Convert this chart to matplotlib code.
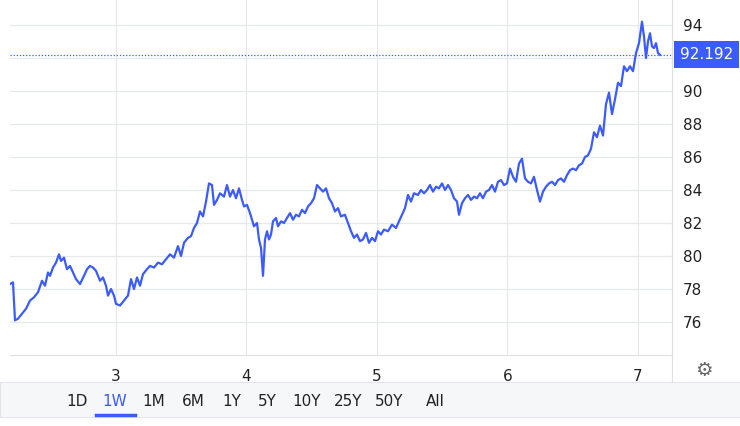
import matplotlib
matplotlib.use("Agg")
import matplotlib.pyplot as plt
import numpy as np

# time in pixel-like sample units (130.5 units per day, day 3 at 116)
t = [10,13,15,18,22,26,30,34,38,42,45,48,50,53,56,59,61,64,67,70,73,76,80,84,87,90,93,96,100,103,106,108,111,114,116,120,124,128,131,134,137,140,143,147,150,154,158,162,166,170,174,178,181,184,188,191,194,197,200,203,206,209,212,214,217,220,224,227,230,233,236,239,242,244,247,250,254,257,259,261,263,265,267,269,271,273,276,278,281,284,287,290,293,296,299,302,305,308,311,314,317,320,323,326,329,332,335,338,341,345,348,351,354,357,360,363,366,369,372,375,378,381,384,388,392,396,399,402,405,408,411,414,418,421,424,427,430,433,436,439,442,445,448,451,454,457,459,462,465,468,471,474,477,480,483,486,489,492,495,498,501,504,507,510,513,516,519,522,525,528,531,534,537,540,543,546,549,552,555,558,561,564,567,570,573,576,579,582,585,588,591,594,597,600,603,606,609,612,615,618,621,624,627,630,633,636,639,642,644,646,648,650,652,654,656,658,660]
values = [78.3,78.4,76.1,76.2,76.5,76.8,77.3,77.5,77.8,78.5,78.2,79.0,78.8,79.3,79.6,80.1,79.7,79.9,79.2,79.4,79.0,78.6,78.3,78.8,79.2,79.4,79.3,79.1,78.5,78.7,78.2,77.6,78.0,77.6,77.1,77.0,77.3,77.6,78.6,78.0,78.7,78.2,78.9,79.2,79.4,79.3,79.6,79.5,79.8,80.1,79.9,80.6,80.0,80.8,81.1,81.2,81.7,82.0,82.7,82.4,83.3,84.4,84.3,83.1,83.4,83.8,83.6,84.3,83.6,84.0,83.5,84.1,83.4,83.0,83.1,82.6,81.8,82.0,81.0,80.5,78.8,81.0,81.5,81.0,81.3,82.1,82.3,81.8,82.1,82.0,82.3,82.6,82.2,82.5,82.4,82.8,82.6,83.0,83.2,83.5,84.3,84.1,83.9,84.1,83.5,83.2,82.7,82.9,82.4,82.5,82.0,81.5,81.1,81.3,80.9,81.0,81.4,80.8,81.1,80.9,81.5,81.3,81.6,81.5,81.9,81.7,82.1,82.5,82.9,83.7,83.3,83.8,83.7,84.0,83.8,84.0,84.3,83.9,84.2,84.1,84.4,84.0,84.3,84.0,83.5,83.3,82.5,83.2,83.5,83.7,83.4,83.6,83.5,83.8,83.5,83.9,84.0,84.3,83.9,84.5,84.6,84.3,84.4,85.3,84.8,84.5,85.6,85.9,84.7,84.5,84.4,84.8,84.0,83.3,83.9,84.2,84.4,84.5,84.3,84.6,84.7,84.5,84.9,85.2,85.3,85.2,85.5,85.6,86.0,86.1,86.5,87.5,87.2,87.9,87.3,89.2,89.9,88.6,89.5,90.5,90.3,91.5,91.2,91.5,91.2,92.3,92.9,94.2,93.3,92.0,93.0,93.5,92.7,92.6,92.9,92.3,92.192]
last_value = 92.192
x_ticks = [3, 4, 5, 6, 7]
y_ticks = [76, 78, 80, 82, 84, 86, 88, 90, 92, 94]
buttons = ["1D", "1W", "1M", "6M", "1Y", "5Y", "10Y", "25Y", "50Y", "All"]

days = 3 + (np.array(t) - 116) / 130.5
blue = "#3b5bfd"

fig = plt.figure(figsize=(7.4, 4.26), dpi=100)
W, H = 740, 426
ax = fig.add_axes([10/W, (H-355)/H, 662/W, 355/H])
ax.plot(days, values, color=blue, lw=1.6)
ax.axhline(last_value, color=blue, lw=0.9, ls=(0, (1, 1.5)))
ax.set_xlim(3 + (10-116)/130.5, 3 + (672-116)/130.5)
ax.set_ylim(94 - (355-25)/16.5, 94 + 25/16.5)
ax.set_xticks(x_ticks)
ax.set_yticks(y_ticks)
ax.set_yticklabels([str(v) if v != 92 else "" for v in y_ticks])
ax.grid(True, color="#e6e8ec", lw=0.9)
ax.tick_params(length=0, labelsize=11, colors="#222222")
ax.yaxis.tick_right()
ax.tick_params(axis="y", pad=8)
ax.tick_params(axis="x", pad=10)
for s in ["top", "left"]:
    ax.spines[s].set_visible(False)
ax.spines["bottom"].set_color("#dcdfe4")
ax.spines["right"].set_color("#dcdfe4")
ax.text(1.012, last_value, f"{last_value:.3f}", transform=ax.get_yaxis_transform(),
        ha="left", va="center", color="white", fontsize=11,
        bbox=dict(boxstyle="square,pad=0.4", fc=blue, ec="none"))

# bottom bar
fig.patches.append(plt.Rectangle((0, 9/H), 1, 35/H, transform=fig.transFigure,
                                 fc="#f6f7f9", ec="#e3e5e8", lw=0.8))
fig.add_artist(plt.Line2D([672/W, 672/W], [44/H, 1], color="#dcdfe4", lw=0.8))
xs = [77, 115, 154, 193, 232, 267, 307, 348, 389, 435]
for lab, x in zip(buttons, xs):
    fig.text(x/W, 24/H, lab, ha="center", va="center", fontsize=11,
             color=blue if lab == "1W" else "#222222")
fig.add_artist(plt.Line2D([96/W, 135/W], [11/H, 11/H], color=blue, lw=2.5))
fig.text(704/W, 56/H, "⚙", ha="center", va="center", fontsize=14, color="#666666")
fig.savefig("out.png", dpi=100)
